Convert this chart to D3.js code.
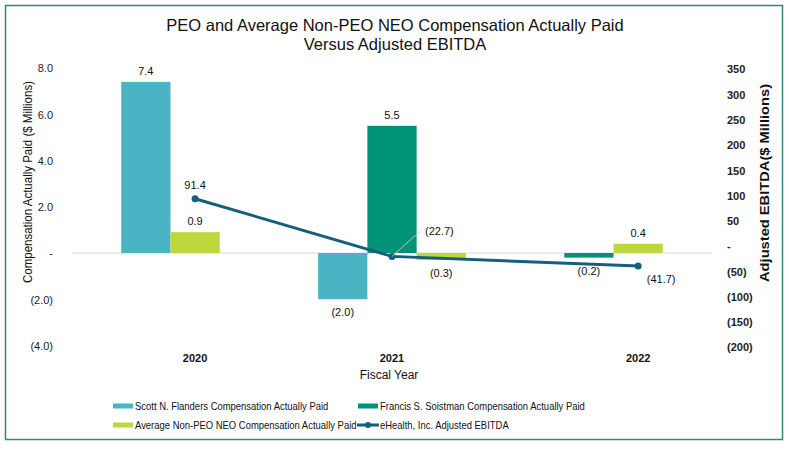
<!DOCTYPE html>
<html>
<head>
  <title>PEO Compensation vs Adjusted EBITDA</title>
  <script src="https://d3js.org/d3.v7.min.js"></script>
</head>
<body style="margin:0px; overflow:hidden; background:#fff;">
  <svg id="chart" width="789" height="449"></svg>

  <script>
    // Data
    const years = ["2020", "2021", "2022"];
    const seriesNames = [
      "Scott N. Flanders Compensation Actually Paid",
      "Francis S. Soistman Compensation Actually Paid",
      "Average Non-PEO NEO Compensation Actually Paid"
    ];
    const scottPay = [7.4, -2.0, null];
    const francisPay = [null, 5.5, -0.2];
    const avgNeoPay = [0.9, -0.3, 0.4];
    const ebitdaName = "eHealth, Inc. Adjusted EBITDA";
    const ebitda = [91.4, -22.7, -41.7];
    const leftTicks = [-4, -2, 0, 2, 4, 6, 8];
    const rightTicks = [-200, -150, -100, -50, 0, 50, 100, 150, 200, 250, 300, 350];

    const colors = ["#4bb4c4", "#00937a", "#bdd73c"];
    const lineColor = "#145f7c";
    const font = "'Liberation Sans', Arial, sans-serif";

    const svg = d3.select("#chart").style("font-family", font);

    // outer frame
    svg.append("rect")
      .attr("x", 5.5).attr("y", 5.5)
      .attr("width", 777).attr("height", 434)
      .attr("fill", "#fff")
      .attr("stroke", "#2e8a7d").attr("stroke-width", 1.5);

    // Title
    svg.append("text").attr("x", 395).attr("y", 31)
      .attr("text-anchor", "middle").attr("font-size", 16.5).attr("fill", "#111")
      .text("PEO and Average Non-PEO NEO Compensation Actually Paid");
    svg.append("text").attr("x", 395).attr("y", 50)
      .attr("text-anchor", "middle").attr("font-size", 16.5).attr("fill", "#111")
      .text("Versus Adjusted EBITDA");

    // Scales
    // 13 slots across the plot: each year gets a 3-slot cluster, bars packed left
    const x = d3.scaleBand().domain(d3.range(13)).range([72, 712]).padding(0);
    const yearSlot = [1, 5, 10];
    const yL = d3.scaleLinear().domain([-4, 8]).range([345.5, 68]);
    const yR = d3.scaleLinear().domain([-200, 350]).range([346, 68]);

    const fmtL = d => d === 0 ? "-" : d < 0 ? "(" + d3.format(".1f")(-d) + ")" : d3.format(".1f")(d);
    const fmtR = d => d === 0 ? "-" : d < 0 ? "(" + (-d) + ")" : String(d);

    // squeeze text a little, the reference font renders narrow
    function narrow(sel, k) {
      sel.each(function () {
        const w = this.getComputedTextLength();
        d3.select(this).attr("textLength", w * k).attr("lengthAdjust", "spacingAndGlyphs");
      });
    }

    // zero line
    svg.append("line")
      .attr("x1", 72).attr("x2", 712)
      .attr("y1", yL(0)).attr("y2", yL(0))
      .attr("stroke", "#d9d9d9").attr("stroke-width", 1);

    // Left axis
    const axL = svg.append("g").attr("transform", "translate(56,0)")
      .call(d3.axisLeft(yL).tickValues(leftTicks).tickFormat(fmtL).tickSize(0));
    axL.select(".domain").remove();
    axL.selectAll("text").attr("font-family", font).attr("font-size", 11).attr("fill", "#222").attr("dy", "0.35em");

    // Right axis
    const axR = svg.append("g").attr("transform", "translate(724,0)")
      .call(d3.axisRight(yR).tickValues(rightTicks).tickFormat(fmtR).tickSize(0));
    axR.select(".domain").remove();
    axR.selectAll("text").attr("font-family", font).attr("font-size", 11)
      .attr("font-weight", "bold").attr("fill", "#222").attr("dy", "0.45em");

    // Axis titles
    svg.append("text")
      .attr("transform", "translate(32,182) rotate(-90)")
      .attr("text-anchor", "middle").attr("font-size", 12).attr("fill", "#111")
      .attr("textLength", 202).attr("lengthAdjust", "spacingAndGlyphs")
      .text("Compensation Actually Paid ($ Millions)");
    svg.append("text")
      .attr("transform", "translate(769,183) rotate(-90)")
      .attr("text-anchor", "middle").attr("font-size", 12.5).attr("font-weight", "bold").attr("fill", "#111")
      .attr("textLength", 198).attr("lengthAdjust", "spacingAndGlyphs")
      .text("Adjusted EBITDA($ Millions)");

    // Bars
    const bars = [];
    years.forEach((yr, i) => {
      let k = 0;
      [scottPay, francisPay, avgNeoPay].forEach((vals, s) => {
        if (vals[i] === null) return;
        bars.push({ year: yr, s: s, v: vals[i], slot: yearSlot[i] + k });
        k++;
      });
    });

    svg.append("g").selectAll("rect")
      .data(bars).enter()
      .append("rect")
      .attr("x", d => x(d.slot))
      .attr("width", x.bandwidth())
      .attr("y", d => yL(Math.max(0, d.v)))
      .attr("height", d => Math.abs(yL(d.v) - yL(0)))
      .attr("fill", d => colors[d.s]);

    svg.append("g").selectAll("text")
      .data(bars).enter()
      .append("text")
      .attr("x", d => x(d.slot) + x.bandwidth() / 2)
      .attr("y", d => d.v >= 0 ? yL(d.v) - 7 : yL(d.v) + 17)
      .attr("text-anchor", "middle").attr("font-size", 11).attr("fill", "#111")
      .text(d => fmtL(d.v));

    // Category labels
    const cx = i => x(yearSlot[i] + 1) + x.bandwidth() / 2;
    svg.append("g").selectAll("text")
      .data(years).enter()
      .append("text")
      .attr("x", (d, i) => cx(i))
      .attr("y", 362)
      .attr("text-anchor", "middle").attr("font-size", 11).attr("font-weight", "bold").attr("fill", "#111")
      .text(d => d);
    svg.append("text").attr("x", 389).attr("y", 379)
      .attr("text-anchor", "middle").attr("font-size", 12).attr("fill", "#111")
      .text("Fiscal Year");

    // EBITDA line
    const pts = ebitda.map((v, i) => ({ x: cx(i), y: yR(v), v: v }));
    svg.append("path")
      .datum(pts)
      .attr("d", d3.line().x(d => d.x).y(d => d.y))
      .attr("fill", "none").attr("stroke", lineColor).attr("stroke-width", 3);
    svg.append("g").selectAll("circle")
      .data(pts).enter()
      .append("circle")
      .attr("cx", d => d.x).attr("cy", d => d.y).attr("r", 3.5)
      .attr("fill", lineColor);

    // line labels
    const p = pts;
    svg.append("text").attr("x", p[0].x).attr("y", p[0].y - 10)
      .attr("text-anchor", "middle").attr("font-size", 11).attr("fill", "#111")
      .text(fmtL(ebitda[0]).replace(/\.0$/, ""));
    svg.append("line")
      .attr("x1", p[1].x).attr("y1", p[1].y)
      .attr("x2", p[1].x + 28).attr("y2", p[1].y - 25)
      .attr("stroke", "#bfbfbf").attr("stroke-width", 1);
    svg.append("text").attr("x", p[1].x + 33).attr("y", p[1].y - 21)
      .attr("font-size", 11).attr("fill", "#111")
      .text(fmtL(ebitda[1]));
    svg.append("text").attr("x", p[2].x + 23).attr("y", p[2].y + 17)
      .attr("text-anchor", "middle").attr("font-size", 11).attr("fill", "#111")
      .text(fmtL(ebitda[2]));

    // Legend
    const legend = [
      { name: seriesNames[0], color: colors[0], x: 113, y: 406 },
      { name: seriesNames[1], color: colors[1], x: 358, y: 406 },
      { name: seriesNames[2], color: colors[2], x: 113, y: 425 },
      { name: ebitdaName, color: lineColor, x: 357, y: 425, line: true }
    ];
    const lg = svg.append("g").selectAll("g")
      .data(legend).enter()
      .append("g")
      .attr("transform", d => "translate(" + d.x + "," + d.y + ")");
    lg.filter(d => !d.line).append("rect")
      .attr("x", 0).attr("y", -2.5).attr("width", 20).attr("height", 5)
      .attr("fill", d => d.color);
    lg.filter(d => d.line).append("line")
      .attr("x1", 0).attr("x2", 22).attr("y1", 0).attr("y2", 0)
      .attr("stroke", d => d.color).attr("stroke-width", 3);
    lg.filter(d => d.line).append("circle")
      .attr("cx", 11).attr("cy", 0).attr("r", 3)
      .attr("fill", d => d.color);
    lg.append("text")
      .attr("x", d => d.line ? 23 : 22).attr("y", 4)
      .attr("font-size", 10.5).attr("fill", "#111")
      .text(d => d.name)
      .call(narrow, 0.9);
  </script>
</body>
</html>
